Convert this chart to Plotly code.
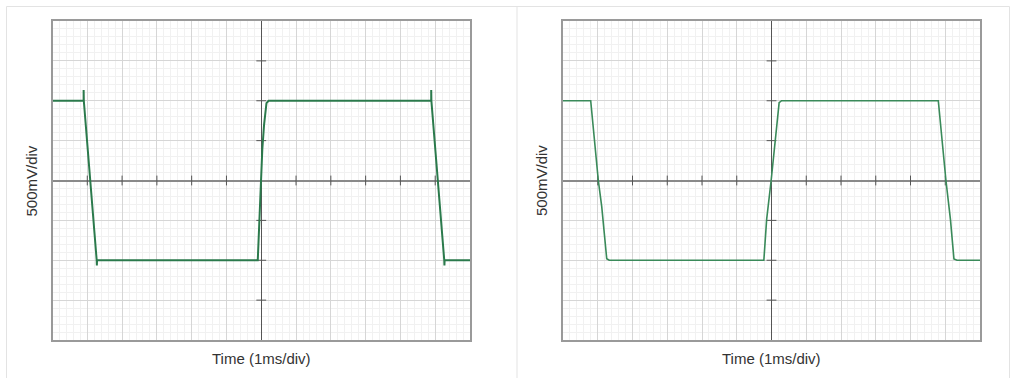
import plotly.graph_objects as go

W, H = 1016, 378

# Waveform data in divisions (x: 1 ms/div, y: 500 mV/div), x centred on 0
left_x = [-6.0, -5.105, -5.105, -5.10, -4.73, -4.725, -4.72, -0.10, -0.05, -0.01, 0.03, 0.08, 0.15, 0.21,
          4.885, 4.885, 4.89, 5.26, 5.265, 5.27, 6.0]
left_y = [2.0, 2.0, 2.27, 2.0, -2.0, -2.13, -2.0, -2.0, -0.73, 0.0, 0.77, 1.39, 1.94, 2.0,
          2.0, 2.27, 2.0, -2.0, -2.13, -2.0, -2.0]

right_x = [-6.0, -5.203, -4.984, -4.886, -4.742, -4.67, -0.22, -0.14, -0.01, 0.11, 0.22, 0.29,
           4.80, 5.02, 5.15, 5.25, 5.34, 6.0]
right_y = [2.0, 2.0, 0.0, -0.65, -1.96, -2.0, -2.0, -0.98, 0.0, 1.02, 1.95, 2.0,
           2.0, 0.0, -0.98, -1.97, -2.0, -2.0]

x_ticks = [-5, -4, -3, -2, -1, 1, 2, 3, 4, 5]
y_ticks = [-3, -2, -1, 1, 2, 3]

x_title = "Time (1ms/div)"
y_title = "500mV/div"

fig = go.Figure()

panels = [
    ("x", "y", left_x, left_y, "#2b7a4c", 2.0, (52.5, 470.0)),
    ("x2", "y2", right_x, right_y, "#3a8a5a", 1.6, (563.0, 980.0)),
]

top_px, bot_px = 21.0, 340.0

for xa, ya, xs, ys, col, lw, (l_px, r_px) in panels:
    # tick marks on centre axes
    fig.add_trace(go.Scatter(x=x_ticks, y=[0] * len(x_ticks), xaxis=xa, yaxis=ya, mode="markers",
                             marker=dict(symbol="line-ns", size=7, line=dict(color="#555", width=1)),
                             hoverinfo="skip", showlegend=False))
    fig.add_trace(go.Scatter(x=[0] * len(y_ticks), y=y_ticks, xaxis=xa, yaxis=ya, mode="markers",
                             marker=dict(symbol="line-ew", size=7, line=dict(color="#555", width=1)),
                             hoverinfo="skip", showlegend=False))
    fig.add_trace(go.Scatter(x=xs, y=ys, xaxis=xa, yaxis=ya, mode="lines",
                             line=dict(color=col, width=lw), hoverinfo="skip", showlegend=False))

axis_common = dict(showticklabels=False, ticks="", showline=True, mirror=True,
                   linecolor="#9a9a9a", linewidth=1.5, showgrid=True, gridcolor="#d6d6d6",
                   gridwidth=1, dtick=1, tick0=0, zeroline=True, fixedrange=True)

ydom = [1 - bot_px / H, 1 - top_px / H]
layout = dict(
    width=W, height=H, margin=dict(l=0, r=0, t=0, b=0),
    paper_bgcolor="white", plot_bgcolor="white", showlegend=False,
    font=dict(family="Arial, Liberation Sans, sans-serif", color="#333"),
)
for i, (xa, ya, xs, ys, col, lw, (l_px, r_px)) in enumerate(panels):
    sfx = "" if i == 0 else str(i + 1)
    layout["xaxis" + sfx] = dict(axis_common, domain=[l_px / W, r_px / W], range=[-6, 6],
                                 anchor="y" + sfx, zerolinecolor="#555", zerolinewidth=1,
                                 minor=dict(dtick=0.2, showgrid=True, gridcolor="#f1f1f1", gridwidth=1))
    layout["yaxis" + sfx] = dict(axis_common, domain=ydom, range=[-4, 4],
                                 anchor="x" + sfx, zerolinecolor="#8a8a8a", zerolinewidth=2,
                                 minor=dict(dtick=0.2, showgrid=True, gridcolor="#f1f1f1", gridwidth=1))
fig.update_layout(**layout)

for (l_px, r_px) in [(52.5, 470.0), (563.0, 980.0)]:
    fig.add_annotation(text=x_title, xref="paper", yref="paper", x=(l_px + r_px) / 2 / W,
                       y=1 - 358 / H, xanchor="center", yanchor="middle", showarrow=False,
                       font=dict(size=15, color="#333"))
    fig.add_annotation(text=y_title, xref="paper", yref="paper", x=(l_px - 22) / W,
                       y=1 - 181 / H, xanchor="center", yanchor="middle", showarrow=False,
                       textangle=-90, font=dict(size=15, color="#333"))

# card frame and divider
fig.add_shape(type="rect", xref="paper", yref="paper", x0=6.5 / W, x1=1009.5 / W,
              y0=-0.05, y1=1 - 6.5 / H, line=dict(color="#e3e3e3", width=1), layer="below")
fig.add_shape(type="line", xref="paper", yref="paper", x0=517 / W, x1=517 / W,
              y0=-0.05, y1=1 - 6.5 / H, line=dict(color="#e3e3e3", width=1), layer="below")

fig.write_html("out.html", config={"displayModeBar": False},
               post_script="document.body.style.margin='0';document.body.style.overflow='hidden';")
